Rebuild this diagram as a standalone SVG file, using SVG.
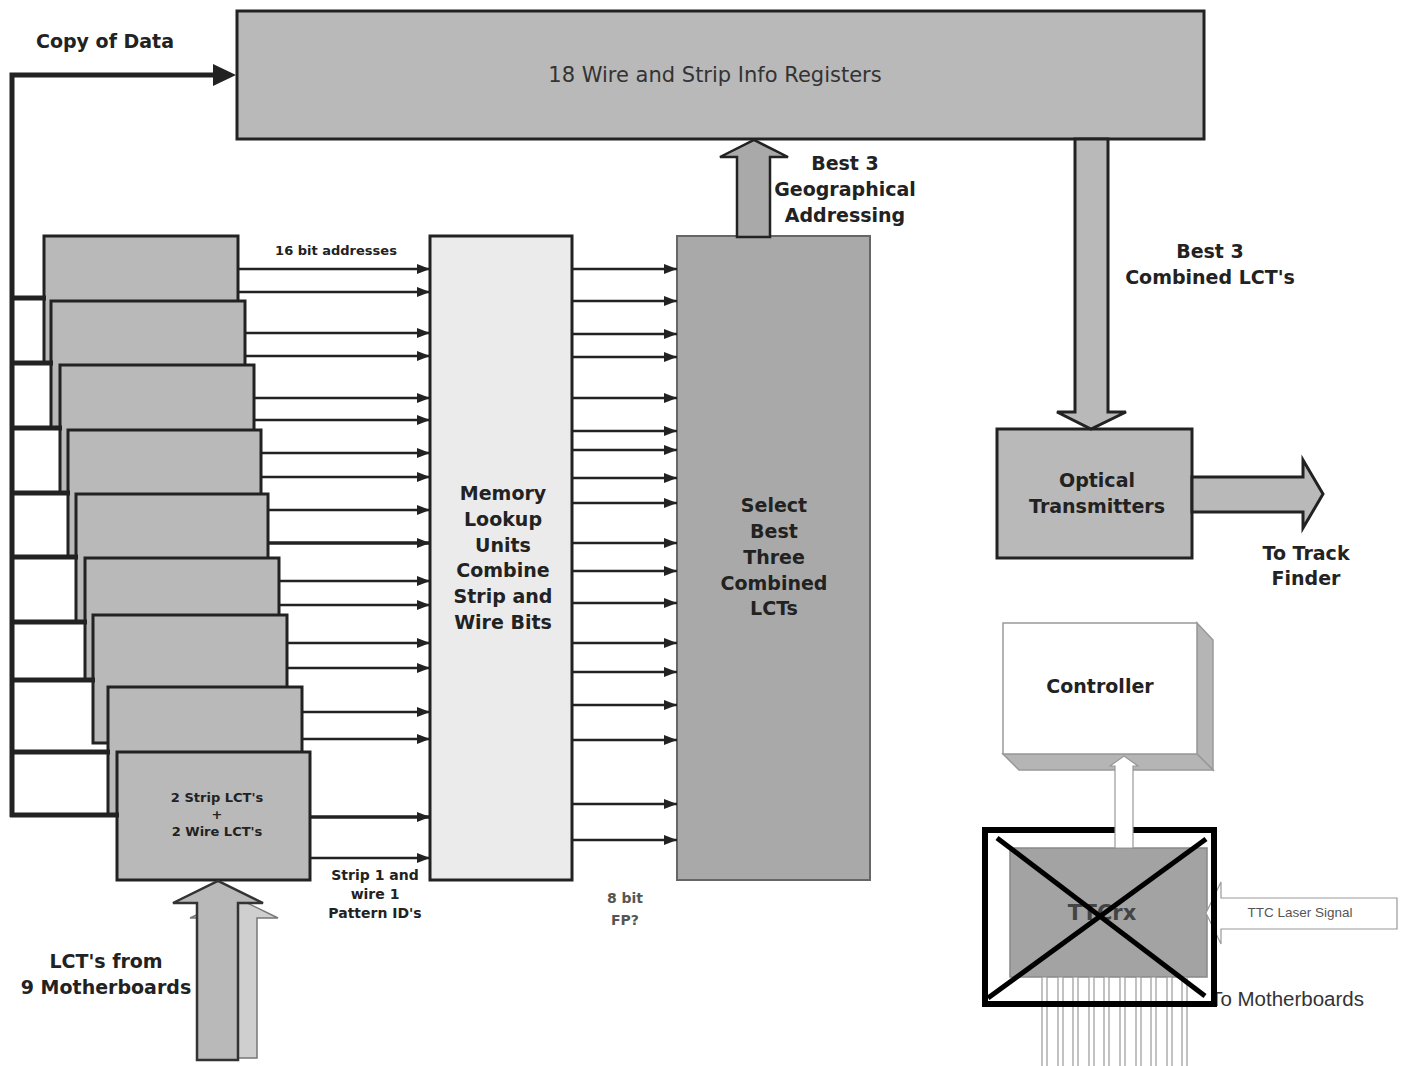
<svg xmlns="http://www.w3.org/2000/svg" width="1406" height="1066" viewBox="0 0 1406 1066">
<defs>
<marker id="ah" markerUnits="userSpaceOnUse" markerWidth="14" markerHeight="12" refX="13" refY="6" orient="auto">
<path d="M0,1 L13,6 L0,11 Z" fill="#222"/>
</marker>
<clipPath id="clipmb"><rect x="1216" y="970" width="190" height="50"/></clipPath>
<style>
.box{fill:#b9b9b9;stroke:#222;stroke-width:3}
.lbl{font-family:"DejaVu Sans",Verdana,sans-serif;font-weight:bold;font-size:19px;fill:#222;text-anchor:middle}
.sm{font-family:"DejaVu Sans",Verdana,sans-serif;font-weight:bold;font-size:13px;fill:#222;text-anchor:middle}
.ln{stroke:#222;stroke-width:2.5;fill:none;marker-end:url(#ah)}
.thick{stroke:#222;stroke-width:5;fill:none}
.fat{fill:#b9b9b9;stroke:#222;stroke-width:3;stroke-linejoin:miter}
</style>
</defs>
<rect width="1406" height="1066" fill="#fff"/>

<g id="registers">
<rect class="box" x="237" y="11" width="967" height="128"/>
<text x="715" y="82" style="font-family:'DejaVu Sans',Verdana,sans-serif;font-size:21px;fill:#333;text-anchor:middle">18 Wire and Strip Info Registers</text>
</g>

<g id="boards">
<rect class="box" x="44" y="236" width="194" height="127"/>
<rect class="box" x="51" y="301" width="194" height="127"/>
<rect class="box" x="60" y="365" width="194" height="128"/>
<rect class="box" x="68" y="430" width="193" height="127"/>
<rect class="box" x="76" y="494" width="192" height="128"/>
<rect class="box" x="85" y="558" width="194" height="122"/>
<rect class="box" x="93" y="615" width="194" height="128"/>
<rect class="box" x="108" y="687" width="194" height="128"/>
<rect class="box" x="117" y="752" width="193" height="128"/>
<text class="sm" x="217" y="802">2 Strip LCT's</text>
<text class="sm" x="217" y="819">+</text>
<text class="sm" x="217" y="836">2 Wire LCT's</text>
</g>

<g id="memory">
<rect x="430" y="236" width="142" height="644" fill="#ebebeb" stroke="#222" stroke-width="3"/>
<text class="lbl" x="503" y="500">Memory</text>
<text class="lbl" x="503" y="526">Lookup</text>
<text class="lbl" x="503" y="552">Units</text>
<text class="lbl" x="503" y="577">Combine</text>
<text class="lbl" x="503" y="603">Strip and</text>
<text class="lbl" x="503" y="629">Wire Bits</text>
</g>

<g id="select">
<rect x="677" y="236" width="193" height="644" fill="#a9a9a9" stroke="#666" stroke-width="2"/>
<text class="lbl" x="774" y="512">Select</text>
<text class="lbl" x="774" y="538">Best</text>
<text class="lbl" x="774" y="564">Three</text>
<text class="lbl" x="774" y="590">Combined</text>
<text class="lbl" x="774" y="615">LCTs</text>
</g>

<g id="optical">
<rect class="box" x="997" y="429" width="195" height="129"/>
<text class="lbl" x="1097" y="487">Optical</text>
<text class="lbl" x="1097" y="513">Transmitters</text>
</g>

<g id="controller">
<polygon points="1197,623 1213,640 1213,770 1197,754" fill="#b5b5b5" stroke="#999" stroke-width="1.5"/>
<polygon points="1003,754 1197,754 1213,770 1019,770" fill="#b5b5b5" stroke="#999" stroke-width="1.5"/>
<rect x="1003" y="623" width="194" height="131" fill="#fff" stroke="#999" stroke-width="1.5"/>
<text class="lbl" x="1100" y="693">Controller</text>
</g>

<g id="ttcrx">
<rect x="1010" y="848" width="197" height="129" fill="#a3a3a3" stroke="#888" stroke-width="1.5"/>
<text x="1102" y="920" style="font-family:'DejaVu Sans',Verdana,sans-serif;font-weight:bold;font-size:21px;fill:#444;text-anchor:middle">TTCrx</text>
<g fill="#fff" stroke="#999" stroke-width="1.2">
<rect x="1042" y="977" width="5" height="92"/>
<rect x="1058" y="977" width="5" height="92"/>
<rect x="1073" y="977" width="5" height="92"/>
<rect x="1089" y="977" width="5" height="92"/>
<rect x="1104" y="977" width="5" height="92"/>
<rect x="1120" y="977" width="5" height="92"/>
<rect x="1136" y="977" width="5" height="92"/>
<rect x="1151" y="977" width="5" height="92"/>
<rect x="1167" y="977" width="5" height="92"/>
<rect x="1182" y="977" width="5" height="92"/>
</g>
<text x="1364" y="1006" clip-path="url(#clipmb)" style="font-family:'Liberation Sans',Arial,sans-serif;font-size:20.5px;fill:#333;text-anchor:end">To Motherboards</text>
</g>

<g id="laser">
<polygon points="1397,898 1221,898 1221,882 1206,913 1221,944 1221,929 1397,929" fill="#fff" stroke="#999" stroke-width="1.2"/>
<text x="1300" y="917" style="font-family:'Liberation Sans',Arial,sans-serif;font-size:13.5px;fill:#555;text-anchor:middle">TTC Laser Signal</text>
</g>

<g id="cross">
<rect x="985" y="830" width="229" height="174" fill="none" stroke="#000" stroke-width="6"/>
<line x1="997" y1="838" x2="1205" y2="996" stroke="#000" stroke-width="5"/>
<line x1="1206" y1="839" x2="988" y2="998" stroke="#000" stroke-width="5"/>
</g>

<g id="connectors">
<polyline class="thick" points="12,817 12,75 215,75"/>
<polygon points="213,64 236,75 213,86" fill="#222"/>
<line class="thick" x1="12" y1="298" x2="46" y2="298"/>
<line class="thick" x1="12" y1="363" x2="53" y2="363"/>
<line class="thick" x1="12" y1="428" x2="62" y2="428"/>
<line class="thick" x1="12" y1="493" x2="70" y2="493"/>
<line class="thick" x1="12" y1="557" x2="78" y2="557"/>
<line class="thick" x1="12" y1="622" x2="87" y2="622"/>
<line class="thick" x1="12" y1="680" x2="95" y2="680"/>
<line class="thick" x1="12" y1="752" x2="110" y2="752"/>
<line class="thick" x1="10" y1="815" x2="119" y2="815"/>
<line class="ln" x1="238" y1="269" x2="430" y2="269"/>
<line class="ln" x1="238" y1="292" x2="430" y2="292"/>
<line class="ln" x1="245" y1="333" x2="430" y2="333"/>
<line class="ln" x1="245" y1="356" x2="430" y2="356"/>
<line class="ln" x1="254" y1="398" x2="430" y2="398"/>
<line class="ln" x1="254" y1="420" x2="430" y2="420"/>
<line class="ln" x1="261" y1="453" x2="430" y2="453"/>
<line class="ln" x1="261" y1="477" x2="430" y2="477"/>
<line class="ln" x1="268" y1="510" x2="430" y2="510"/>
<line class="ln" x1="268" y1="543" x2="430" y2="543" style="stroke-width:3.5"/>
<line class="ln" x1="279" y1="581" x2="430" y2="581"/>
<line class="ln" x1="279" y1="605" x2="430" y2="605"/>
<line class="ln" x1="287" y1="643" x2="430" y2="643"/>
<line class="ln" x1="287" y1="668" x2="430" y2="668"/>
<line class="ln" x1="302" y1="712" x2="430" y2="712"/>
<line class="ln" x1="302" y1="739" x2="430" y2="739"/>
<line class="ln" x1="310" y1="817" x2="430" y2="817" style="stroke-width:3.5"/>
<line class="ln" x1="310" y1="858" x2="430" y2="858"/>
<line class="ln" x1="572" y1="269" x2="677" y2="269"/>
<line class="ln" x1="572" y1="301" x2="677" y2="301"/>
<line class="ln" x1="572" y1="334" x2="677" y2="334"/>
<line class="ln" x1="572" y1="357" x2="677" y2="357"/>
<line class="ln" x1="572" y1="398" x2="677" y2="398"/>
<line class="ln" x1="572" y1="431" x2="677" y2="431"/>
<line class="ln" x1="572" y1="450" x2="677" y2="450"/>
<line class="ln" x1="572" y1="478" x2="677" y2="478"/>
<line class="ln" x1="572" y1="503" x2="677" y2="503"/>
<line class="ln" x1="572" y1="543" x2="677" y2="543"/>
<line class="ln" x1="572" y1="571" x2="677" y2="571"/>
<line class="ln" x1="572" y1="603" x2="677" y2="603"/>
<line class="ln" x1="572" y1="643" x2="677" y2="643"/>
<line class="ln" x1="572" y1="672" x2="677" y2="672"/>
<line class="ln" x1="572" y1="705" x2="677" y2="705"/>
<line class="ln" x1="572" y1="740" x2="677" y2="740"/>
<line class="ln" x1="572" y1="804" x2="677" y2="804"/>
<line class="ln" x1="572" y1="840" x2="677" y2="840"/>
<polygon points="737,237 737,157 720,157 754,140 788,157 770,157 770,237" fill="#a9a9a9" stroke="#222" stroke-width="2.5"/>
<polygon points="1075,139 1075,412 1057,412 1091,429 1126,412 1108,412 1108,139" class="fat"/>
<polygon points="1192,477 1303,477 1303,460 1323,494 1303,528 1303,512 1192,512" class="fat"/>
<polygon points="1115,848 1115,766 1110,766 1124,756 1138,766 1133,766 1133,848" fill="#fff" stroke="#999" stroke-width="1.2"/>
<polygon points="214,1058 214,918 190,918 235,897 278,918 257,918 257,1058" fill="#cfcfcf" stroke="#777" stroke-width="1.5"/>
<polygon points="197,1060 197,903 173,903 218,881 263,903 238,903 238,1060" fill="#b9b9b9" stroke="#333" stroke-width="2.5"/>
</g>

<g id="labels">
<text class="lbl" x="105" y="48">Copy of Data</text>
<text class="sm" x="336" y="255">16 bit addresses</text>
<text class="lbl" x="845" y="170">Best 3</text>
<text class="lbl" x="845" y="196">Geographical</text>
<text class="lbl" x="845" y="222">Addressing</text>
<text class="lbl" x="1210" y="258">Best 3</text>
<text class="lbl" x="1210" y="284">Combined LCT's</text>
<text class="lbl" x="1306" y="560">To Track</text>
<text class="lbl" x="1306" y="585">Finder</text>
<text class="sm" x="375" y="880" style="font-size:14px">Strip 1 and</text>
<text class="sm" x="375" y="899" style="font-size:14px">wire 1</text>
<text class="sm" x="375" y="918" style="font-size:14px">Pattern ID's</text>
<text class="sm" x="625" y="903" style="font-size:14px;fill:#555">8 bit</text>
<text class="sm" x="625" y="925" style="font-size:14px;fill:#555">FP?</text>
<text class="lbl" x="106" y="968">LCT's from</text>
<text class="lbl" x="106" y="994">9 Motherboards</text>
</g>
</svg>
